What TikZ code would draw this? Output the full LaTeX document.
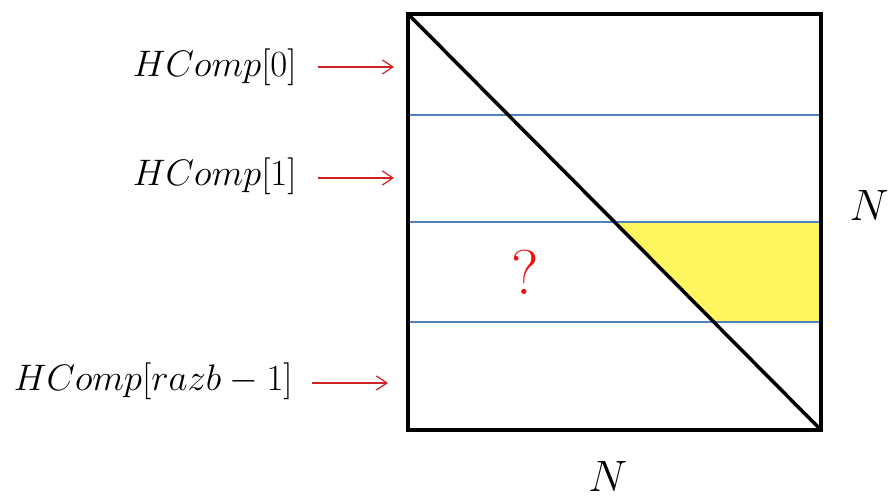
\RequirePackage{fix-cm}
\documentclass[tikz,border=0pt]{standalone}
\usepackage{xcolor}
\definecolor{hcred}{RGB}{205,35,35}
\definecolor{hcqred}{RGB}{250,10,10}
\definecolor{hcblue}{RGB}{79,129,189}
\definecolor{hcyellow}{RGB}{255,245,95}
\usetikzlibrary{arrows.meta,positioning,calc}

\begin{document}
\begin{tikzpicture}[x=0.02cm,y=-0.02cm]
  \useasboundingbox (0,0) rectangle (888,499);
  % matrix corners
  \coordinate (tl) at (408,14);
  \coordinate (tr) at (821,14);
  \coordinate (bl) at (408,430);
  \coordinate (br) at (821,430);
  % row boundaries
  \coordinate (r1l) at (408,115);
  \coordinate (r1r) at (821,115);
  \coordinate (r2l) at (408,222);
  \coordinate (r2r) at (821,222);
  \coordinate (r3l) at (408,322);
  \coordinate (r3r) at (821,322);
  \coordinate (d2) at ($(tl)!0.5!(br)$);
  \coordinate (d3) at ($(tl)!0.7404!(br)$);
  \fill[hcyellow] (d2) -- (r2r) -- (r3r) -- (d3) -- cycle;
  \draw[hcblue,line width=0.7pt] (r1l) -- (r1r);
  \draw[hcblue,line width=0.7pt] (r2l) -- (r2r);
  \draw[hcblue,line width=0.7pt] (r3l) -- (r3r);
  \draw[line width=2pt] (tl) -- (br);
  \draw[line width=2.2pt] (tl) rectangle (br);
  % labels
  \node[anchor=east,inner sep=0pt,font=\fontsize{21}{24}\selectfont]
        (h0) at (297,67) {$HComp[0]$};
  \node[anchor=east,inner sep=0pt,font=\fontsize{21}{24}\selectfont]
        (h1) at (297,176) {$HComp[1]$};
  \node[anchor=east,inner sep=0pt,font=\fontsize{21}{24}\selectfont]
        (hr) at (293,381) {$HComp[razb-1]$};
  \coordinate (a0) at (394,67);
  \coordinate (a1) at (394,178);
  \coordinate (ar) at (388,383);
  \draw[-{Straight Barb[length=6pt,width=8pt]},hcred,line width=0.7pt,shorten <=21*0.02cm]
        (h0.east |- a0) -- (a0);
  \draw[-{Straight Barb[length=6pt,width=8pt]},hcred,line width=0.7pt,shorten <=21*0.02cm]
        (h1.east |- a1) -- (a1);
  \draw[-{Straight Barb[length=6pt,width=8pt]},hcred,line width=0.7pt,shorten <=19*0.02cm]
        (hr.east |- ar) -- (ar);
  \node[text=hcqred,font=\fontsize{36}{40}\selectfont] (q) at (525,272) {?};
  \node[font=\fontsize{25}{28}\selectfont] (nr) at (869,205) {$N$};
  \node[inner sep=0pt,font=\fontsize{25}{28}\selectfont] (nb) at (608,476) {$N$};
\end{tikzpicture}
\end{document}
